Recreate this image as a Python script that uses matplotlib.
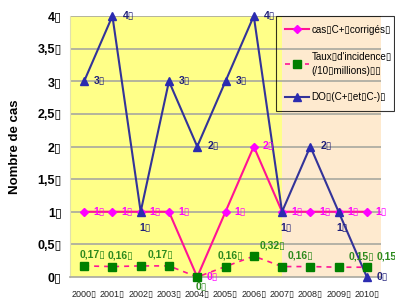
import matplotlib.pyplot as plt
from matplotlib.patches import Rectangle

plt.rcParams['font.family'] = ['Liberation Sans', 'DejaVu Sans']

BOX = '\u25af'  # the little box glyph left by the source rendering

# ============ data ============
years = ['2000', '2001', '2002', '2003', '2004', '2005', '2006', '2007', '2008', '2009', '2010']
cas_corriges = [1, 1, 1, 1, 0, 1, 2, 1, 1, 1, 1]
taux_incidence = [0.17, 0.16, 0.17, 0.17, 0, 0.16, 0.32, 0.16, 0.16, 0.15, 0.15]
do_cas = [3, 4, 1, 3, 2, 3, 4, 1, 2, 1, 0]

taux_labels = ['0,17', '0,16', '0,17', None, '0', '0,16', '0,32', '0,16', None, '0,15', '0,15']
y_ticks = [0, 0.5, 1, 1.5, 2, 2.5, 3, 3.5, 4]

# label placement (pixel offsets from the point)
do_below = [False, False, True, False, False, False, False, True, False, True, False]
taux_dx = [8, 8, 20, 0, 4, 5, 19, 19, 0, 23, 23]

PINK = '#ff1493'
MAGENTA = '#ff00ff'
GREEN = '#008000'
GREEN_TXT = '#2d8a1e'
BLUE = '#333399'
BLUE_TXT = '#1f1f7a'

fig = plt.figure(figsize=(3.95, 2.98), dpi=100)
ax = fig.add_axes([70 / 395, 21 / 298, 311 / 395, 261 / 298])
ax.set_facecolor('#feeacf')

x = list(range(len(years)))
ax.set_xlim(-0.5, len(years) - 0.5)
ax.set_ylim(0, 4)

# yellow part of the plot area
ax.add_patch(Rectangle((-0.5, 0), 7.5, 4, facecolor='#ffff88', edgecolor='none', zorder=0))

for t in y_ticks[1:]:
    ax.axhline(t, color='#a8a8a0', lw=1.2, zorder=1)

l1, = ax.plot(x, cas_corriges, color=PINK, lw=1.5, marker='D', markersize=4,
              markerfacecolor=MAGENTA, markeredgecolor=MAGENTA, zorder=3, clip_on=False)
l3, = ax.plot(x, do_cas, color=BLUE, lw=1.5, marker='^', markersize=6,
              markerfacecolor='#2b2bb0', markeredgecolor='#2b2bb0', zorder=4, clip_on=False)
l2, = ax.plot(x, taux_incidence, color=PINK, lw=1.2, ls=(0, (3, 3)), marker='s', markersize=6,
              markerfacecolor=GREEN, markeredgecolor=GREEN, zorder=5, clip_on=False)

lab = dict(fontsize=7.5, fontweight='bold', textcoords='offset pixels', annotation_clip=False)

for i, v in enumerate(cas_corriges):
    ax.annotate(f'{v}{BOX}', (i, v), xytext=(9, 0), ha='left', va='center',
                color=MAGENTA, zorder=6, **lab)

for i, v in enumerate(do_cas):
    if do_below[i]:
        ax.annotate(f'{v}{BOX}', (i, v), xytext=(4, -16), ha='center', va='center',
                    color=BLUE_TXT, zorder=6, **lab)
    else:
        ax.annotate(f'{v}{BOX}', (i, v), xytext=(10, 0), ha='left', va='center',
                    color=BLUE_TXT, zorder=6, **lab)

for i, (v, t) in enumerate(zip(taux_incidence, taux_labels)):
    if t is None:
        continue
    dy = -10 if v == 0 else 11
    ax.annotate(f'{t}{BOX}', (i, v), xytext=(taux_dx[i], dy), ha='center', va='center',
                color=GREEN_TXT, zorder=6, **lab)

ax.set_xticks(x)
ax.set_xticklabels([y + BOX for y in years], fontsize=6.5, color='#222222')
ax.set_yticks(y_ticks)
ax.set_yticklabels([f'{t:g}'.replace('.', ',') + BOX for t in y_ticks],
                   fontsize=9, fontweight='bold')
ax.tick_params(axis='both', length=0)
ax.tick_params(axis='x', pad=9)
ax.tick_params(axis='y', pad=6)

for s in ['top', 'right']:
    ax.spines[s].set_visible(False)
ax.spines['left'].set_color('#e0e0b0')
ax.spines['bottom'].set_color('#a8a8a0')
ax.spines['bottom'].set_linewidth(1.2)

ax.set_ylabel('Nombre de cas', fontsize=9.5, fontweight='bold', labelpad=12)

leg = ax.legend([l1, l2, l3],
                [f'cas{BOX}C+{BOX}corrigés{BOX}',
                 f'Taux{BOX}d\'incidence{BOX}\n(/10{BOX}millions){BOX}{BOX}',
                 f'DO{BOX}(C+{BOX}et{BOX}C-){BOX}'],
                loc='upper left', bbox_to_anchor=(206 / 311, 0.625, 118 / 311, 0.375),
                mode='expand', fontsize=7.1, frameon=True, fancybox=False,
                handlelength=2.4, borderaxespad=0, borderpad=0.9,
                labelspacing=1.7, handletextpad=0.3)
leg.get_texts()[1].set_linespacing(1.5)
leg.get_frame().set_facecolor('none')
leg.get_frame().set_edgecolor('black')
leg.get_frame().set_linewidth(0.8)

fig.savefig('out.png', dpi=100)
